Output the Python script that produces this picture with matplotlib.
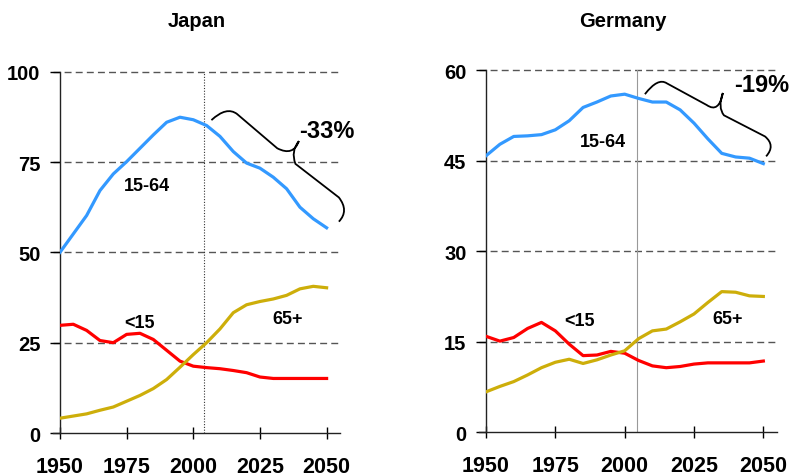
import numpy as np
import matplotlib.pyplot as plt
from matplotlib.path import Path
from matplotlib.patches import PathPatch

plt.rcParams['font.family'] = ['Liberation Sans', 'DejaVu Sans']
plt.rcParams['font.weight'] = 'bold'

years = np.arange(1950, 2051, 5)

# Japan, share of population (%)
jp_working = [50.0, 55.1, 60.2, 67.1, 71.7, 75.1, 78.8, 82.5, 86.0, 87.4, 86.7,
              85.1, 82.1, 77.9, 74.7, 73.3, 70.8, 67.6, 62.5, 59.3, 56.8]
jp_young = [29.8, 30.1, 28.4, 25.6, 25.0, 27.3, 27.6, 25.9, 22.9, 19.9, 18.5,
            18.1, 17.8, 17.3, 16.7, 15.5, 15.1, 15.1, 15.1, 15.1, 15.1]
jp_old = [4.1, 4.7, 5.3, 6.3, 7.2, 8.8, 10.4, 12.3, 14.8, 18.2, 21.7,
          25.0, 28.8, 33.3, 35.5, 36.4, 37.1, 38.1, 39.9, 40.6, 40.2]

# Germany
de_working = [45.8, 47.7, 49.0, 49.1, 49.3, 50.1, 51.6, 53.8, 54.7, 55.7, 56.0,
              55.3, 54.7, 54.7, 53.4, 51.2, 48.6, 46.2, 45.6, 45.4, 44.5]
de_young = [15.9, 15.1, 15.7, 17.2, 18.2, 16.8, 14.6, 12.7, 12.8, 13.4, 13.1,
            11.9, 11.0, 10.7, 10.9, 11.3, 11.5, 11.5, 11.5, 11.5, 11.8]
de_old = [6.7, 7.6, 8.4, 9.5, 10.7, 11.6, 12.1, 11.4, 12.0, 12.8, 13.5,
          15.5, 16.8, 17.1, 18.3, 19.6, 21.5, 23.3, 23.2, 22.6, 22.5]

BLUE = '#3399ff'
RED = '#ff0000'
GOLD = '#cdae0a'

fig = plt.figure(figsize=(7.9, 4.77), dpi=100)
ax1 = fig.add_axes([0.0759, 0.0901, 0.3544, 0.7575])
ax2 = fig.add_axes([0.6152, 0.0916, 0.3686, 0.7595])


def style(ax, ymax, step):
    ax.set_xlim(1950, 2055)
    ax.set_ylim(0, ymax)
    ax.set_xticks([1950, 1975, 2000, 2025, 2050])
    ax.set_yticks(np.arange(0, ymax + 1, step))
    ax.spines['top'].set_visible(False)
    ax.spines['right'].set_visible(False)
    ax.spines['bottom'].set_bounds(1947.4, 2055)
    for s in ('left', 'bottom'):
        ax.spines[s].set_linewidth(1.0)
        ax.spines[s].set_color('#222222')
    ax.tick_params(axis='x', direction='inout', length=9, width=1, pad=12,
                   labelsize=15.5)
    ax.tick_params(axis='y', direction='out', length=7, width=1, pad=7,
                   labelsize=14.5)
    for y in np.arange(step, ymax + 1, step):
        ax.plot([1947.4, 2055], [y, y], ls=(0, (5, 3)), color='#555555',
                lw=1.0, clip_on=False, zorder=1)


style(ax1, 100, 25)
style(ax2, 60, 15)
fig.text(0.2487, 0.954, 'Japan', fontsize=14.5, fontweight='bold',
         ha='center', va='center')
fig.text(0.7886, 0.954, 'Germany', fontsize=14.5, fontweight='bold',
         ha='center', va='center')

ax1.axvline(2004, color='#333333', lw=0.8, ls=(0, (1, 1.5)), zorder=1)
ax2.axvline(2004.3, color='#999999', lw=0.8, zorder=1)

for ax, w, yng, o in ((ax1, jp_working, jp_young, jp_old),
                      (ax2, de_working, de_young, de_old)):
    ax.plot(years, w, color=BLUE, lw=2.3, zorder=3)
    ax.plot(years, yng, color=RED, lw=2.3, zorder=3)
    ax.plot(years, o, color=GOLD, lw=2.3, zorder=3)

lab = dict(fontsize=13, fontweight='bold', ha='center', va='center')
ax1.text(1982.6, 68.4, '15-64', **lab)
ax1.text(1979.8, 30.6, '<15', **lab)
ax1.text(2035.4, 31.7, '65+', **lab)
ax1.text(2050, 83.6, '-33%', fontsize=17, fontweight='bold',
         ha='center', va='center')

ax2.text(1992.3, 48.1, '15-64', **lab)
ax2.text(1983.6, 18.5, '<15', **lab)
ax2.text(2037, 18.9, '65+', **lab)
ax2.text(2049.5, 57.6, '-19%', fontsize=17, fontweight='bold',
         ha='center', va='center')


def brace(ax, pts):
    M, C, L = Path.MOVETO, Path.CURVE3, Path.LINETO
    codes = [M, C, C, L, C, C, M, C, C, L, C, C]
    ax.add_patch(PathPatch(Path(pts, codes), fill=False, lw=1.3,
                           color='black', clip_on=False, zorder=4))


brace(ax1, [(2006.8, 86.6), (2012.5, 90.5), (2016.4, 88.3), (2031.5, 78.8),
            (2037.5, 76.5), (2039.6, 80.8),
            (2039.6, 80.8), (2036.5, 78.0), (2038.3, 74.5), (2054.6, 65.2),
            (2058.5, 61.5), (2054.6, 58.5)])
brace(ax2, [(2007.3, 56.0), (2012.0, 58.8), (2015.2, 57.8), (2029.6, 54.2),
            (2034.0, 52.8), (2035.4, 56.2),
            (2035.4, 56.2), (2033.5, 53.8), (2035.8, 52.5), (2050.6, 49.0),
            (2054.5, 47.5), (2051.0, 45.7)])

fig.savefig('out.png', dpi=100)
